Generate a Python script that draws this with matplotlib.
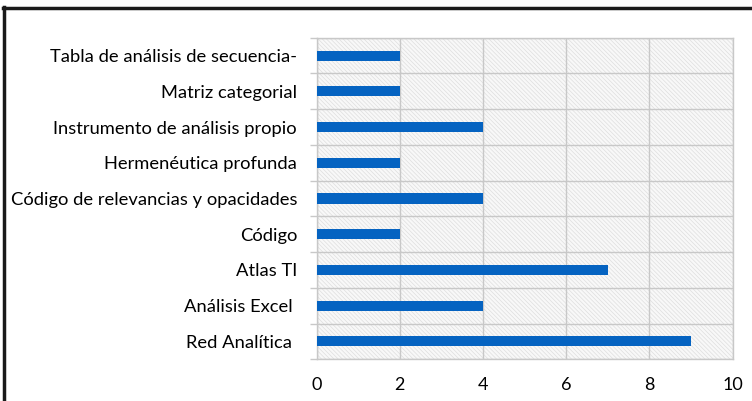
import matplotlib
matplotlib.use("Agg")
import matplotlib.pyplot as plt
from matplotlib.patches import Rectangle
from matplotlib.lines import Line2D

categories = ["Red Analítica ", "Análisis Excel ", "Atlas TI", "Código",
              "Código de relevancias y opacidades", "Hermenéutica profunda",
              "Instrumento de análisis propio", "Matriz categorial",
              "Tabla de análisis de secuencia-"]
values = [9, 4, 7, 2, 4, 2, 4, 2, 2]
xticks = [0, 2, 4, 6, 8, 10]

plt.rcParams['font.family'] = ['Lato', 'DejaVu Sans']
plt.rcParams['hatch.color'] = '#dedede'
plt.rcParams['hatch.linewidth'] = 0.5

fig = plt.figure(figsize=(7.52, 4.01), dpi=100)
W, H = 752, 401
ax = fig.add_axes([316.5 / W, 1 - 359.3 / H, (732.7 - 316.5) / W, (359.3 - 37.7) / H])

# hatched background
bg = Rectangle((0, 0), 1, 1, transform=ax.transAxes, facecolor='#f8f8f8',
               edgecolor='#dedede', hatch='\\\\\\\\\\\\\\\\', linewidth=0, zorder=0)
ax.add_patch(bg)
ax.set_facecolor('white')

y = list(range(len(categories)))
ax.barh(y, values, height=0.28, color='#0563C1', zorder=3)

ax.set_xlim(0, 10)
ax.set_ylim(-0.5, len(categories) - 0.5)
ax.set_xticks(xticks)
ax.set_xticklabels([str(t) for t in xticks], fontsize=13)
ax.set_yticks(y)
ax.set_yticklabels(categories, fontsize=13.2)
ax.set_yticks([i - 0.5 for i in range(len(categories) + 1)], minor=True)

ax.grid(axis='x', color='#c8c8c8', linewidth=1, zorder=1)
ax.grid(axis='y', which='minor', color='#c8c8c8', linewidth=1, zorder=1)
ax.tick_params(axis='y', which='major', length=0, pad=14)
ax.tick_params(axis='y', which='minor', length=5, color='#c8c8c8', width=1)
ax.tick_params(axis='x', length=0, pad=13)
for s in ax.spines.values():
    s.set_color('#c8c8c8')
    s.set_linewidth(1)

# outer frame (top and left)
fig.add_artist(Line2D([4 / W, 4 / W], [0, 1 - 7 / H], transform=fig.transFigure,
                      color='#1a1a1a', linewidth=2.5))
fig.add_artist(Line2D([3 / W, 1], [1 - 8 / H, 1 - 8 / H], transform=fig.transFigure,
                      color='#1a1a1a', linewidth=2.5))

fig.savefig("out.png", dpi=100)
